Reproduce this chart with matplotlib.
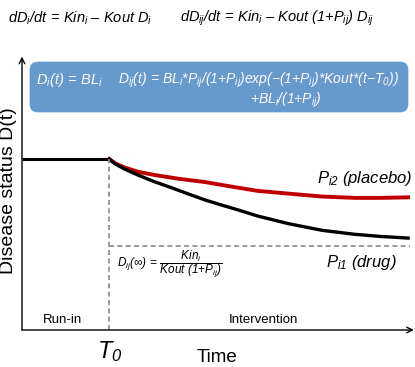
import numpy as np
import matplotlib
matplotlib.use("Agg")
import matplotlib.pyplot as plt
from matplotlib.patches import FancyBboxPatch

plt.rcParams['font.family'] = ['Liberation Sans', 'DejaVu Sans']
plt.rcParams['mathtext.fontset'] = 'custom'
plt.rcParams['mathtext.it'] = 'Liberation Sans:italic'
plt.rcParams['mathtext.rm'] = 'Liberation Sans:italic'
plt.rcParams['mathtext.sf'] = 'Liberation Sans:italic'

# ---- data (time in arbitrary units 0..100, disease status 0..100) ----
T0 = 22.5
baseline = 63.8
runin_t = [0.0, T0]
runin_d = [baseline, baseline]
placebo_t = [22.5, 24.0, 26.5, 30.0, 34.3, 40.5, 47.2, 54.0, 60.8, 68.6, 77.3, 85.8, 92.5, 99.5]
placebo_d = [63.8, 62.2, 60.6, 59.0, 57.8, 56.4, 55.2, 53.5, 51.9, 50.9, 49.8, 49.3, 49.3, 49.5]
drug_t = [22.5, 24.0, 26.5, 29.9, 34.0, 38.7, 43.0, 47.2, 51.5, 55.7, 60.8, 68.6, 77.3, 85.8, 92.5, 99.5]
drug_d = [63.8, 62.0, 60.0, 57.8, 55.4, 53.0, 50.7, 48.5, 46.6, 44.8, 42.5, 39.7, 37.2, 35.7, 34.9, 34.3]
steady_state = 31.3

fig = plt.figure(figsize=(4.15, 3.67), dpi=100)

# overlay axes in pixel coordinates for annotation layout
ov = fig.add_axes([0, 0, 1, 1])
ov.set_xlim(0, 415)
ov.set_ylim(367, 0)
ov.axis('off')

# data axes
ax = fig.add_axes([22/415, 37/367, 388/415, 268/367])
ax.set_xlim(0, 100)
ax.set_ylim(0, 100)
ax.axis('off')
ax.patch.set_alpha(0)

ax.plot(runin_t, runin_d, color='black', lw=2.2, solid_capstyle='butt')
ax.plot(placebo_t, placebo_d, color='#c00000', lw=2.8, solid_joinstyle='round')
ax.plot(drug_t, drug_d, color='black', lw=2.4, solid_joinstyle='round')
ax.plot([T0, T0], [0, baseline], color='#888888', lw=1.2, ls=(0, (3, 2)))
ax.plot([T0, 100], [steady_state, steady_state], color='#888888', lw=1.2, ls=(0, (3, 2)))

# axes arrows
ax.annotate('', xy=(0, 102), xytext=(0, 0),
            arrowprops=dict(arrowstyle='->', lw=1.0, color='black', shrinkA=0, shrinkB=0),
            annotation_clip=False)
ax.annotate('', xy=(101, 0), xytext=(0, 0),
            arrowprops=dict(arrowstyle='->', lw=1.0, color='black', shrinkA=0, shrinkB=0),
            annotation_clip=False)

# top equations
ov.text(8, 18, r'$dD_i/dt\,=\,Kin_i\ \endash\ Kout\ D_i$', fontsize=10.5, va='center', ha='left')
ov.text(180, 18, r'$dD_{ij}/dt\,=\,Kin_i\ \endash\ Kout\ (1{+}P_{ij})\ D_{ij}$', fontsize=10.5,
        va='center', ha='left')

# blue box
box = FancyBboxPatch((30, 62), 378, 50, boxstyle='round,pad=0,rounding_size=8',
                     facecolor='#6699cc', edgecolor='#6699cc', lw=0.5)
ov.add_patch(box)
ov.text(36, 80, r'$D_i(t)\,=\,BL_i$', fontsize=10.5, color='white', va='center', ha='left')
ov.text(118, 80, r'$D_{ij}(t)\,=\,BL_i{*}P_{ij}/(1{+}P_{ij})exp({-}(1{+}P_{ij}){*}Kout{*}(t{-}T_0))$',
        fontsize=10.0, color='white', va='center', ha='left')
ov.text(250, 100, r'$+BL_i/(1{+}P_{ij})$', fontsize=10.0, color='white', va='center', ha='left')

# curve labels
ov.text(413, 178, r'$P_{i2}\ (placebo)$', fontsize=12, va='center', ha='right')
ov.text(326, 263, r'$P_{i1}\ (drug)$', fontsize=12, va='center', ha='left')
ov.text(117, 264, r'$D_{ij}(\infty)\,=\,\dfrac{Kin_i}{Kout\ (1{+}P_{ij})}$', fontsize=8.5,
        va='center', ha='left')

# region labels
ov.text(62, 320, 'Run-in', fontsize=9.5, va='center', ha='center')
ov.text(263, 320, 'Intervention', fontsize=9.5, va='center', ha='center')
ov.text(110, 352, r'$T_0$', fontsize=17, va='center', ha='center')
ov.text(217, 358, 'Time', fontsize=13.5, va='center', ha='center')
ov.text(9, 191, 'Disease status D(t)', fontsize=14, va='center', ha='center', rotation=90)

fig.savefig('out.png', dpi=100)
